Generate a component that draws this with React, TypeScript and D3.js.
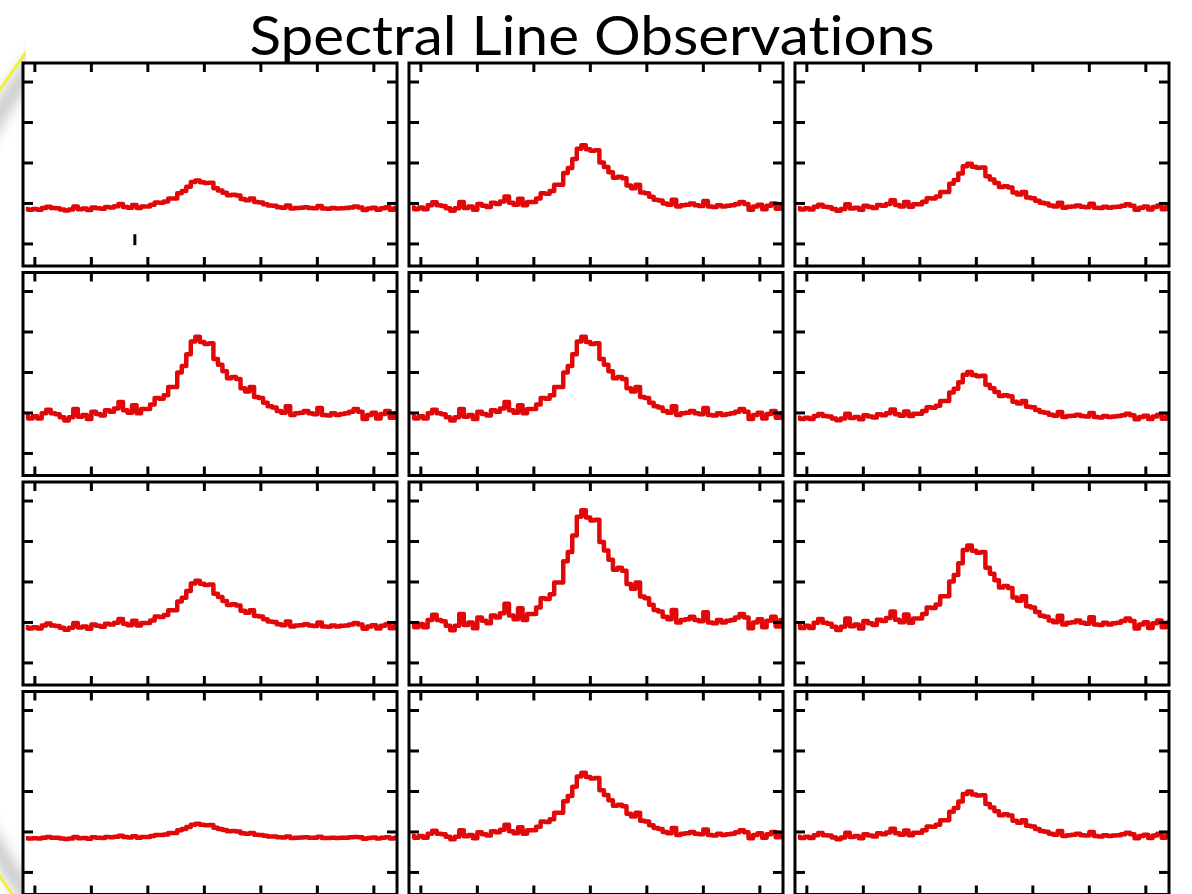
import { useEffect, useRef } from 'react';
import * as d3 from 'd3';

const TITLE = 'Spectral Line Observations';

// channel velocities shared by every panel
const CHANNELS = [
  -316, -308, -300, -292, -284, -276, -268, -260, -252, -244,
  -236, -228, -220, -212, -204, -196, -188, -180, -172, -164,
  -156, -148, -140, -132, -124, -116, -108, -100, -92, -84,
  -76, -68, -60, -52, -44, -36, -28, -20, -12, -4,
  4, 12, 20, 28, 36, 44, 52, 60, 68, 76,
  84, 92, 100, 108, 116, 124, 132, 140, 148, 156,
  164, 172, 180, 188, 196, 204, 212, 220, 228, 236,
  244, 252, 260, 268, 276, 284, 292, 300, 308, 316,
  324, 332, 340,
];

// line profile (row 3, middle);
// every other panel shows the same profile at a different strength
const PROFILE = [
  -0.04, -0.12, -0.04, -0.12, 0.06, 0.19, 0.06, 0.03, -0.08, -0.19,
  -0.08, 0.21, -0.06, 0.0, -0.14, 0.12, 0.04, -0.02, 0.17, 0.12,
  0.23, 0.46, 0.17, 0.08, 0.35, 0.06, 0.21, 0.21, 0.37, 0.6,
  0.58, 0.7, 0.99, 0.99, 1.51, 1.74, 2.15, 2.61, 2.77, 2.59,
  2.52, 2.54, 1.99, 1.78, 1.55, 1.3, 1.35, 1.28, 0.95, 0.83,
  0.99, 0.64, 0.6, 0.44, 0.31, 0.27, 0.14, 0.08, 0.31, 0.0,
  0.06, 0.08, 0.14, 0.06, 0.03, 0.25, 0.0, -0.02, 0.06, 0.0,
  0.04, 0.06, 0.12, 0.21, 0.12, -0.14, 0.0, 0.08, -0.12, 0.04,
  0.14, -0.1, 0.06,
];

// peak height of each panel, row by row
const PEAKS = [
  [0.57, 1.44, 0.98],
  [1.88, 1.88, 1.01],
  [1.03, 2.77, 1.9],
  [0.2, 1.46, 1.0],
];
const FLOOR = -0.17;

const X_TICKS = [-300, -200, -100, 0, 100, 200, 300];
const Y_TICKS = [-1, 0, 1, 2, 3];

// small stray marker in the first panel
const MARKER = { velocity: -123, from: -0.76, to: -1.03 };

const WIDTH = 1192;
const HEIGHT = 894;

export default function App() {
  const svgRef = useRef<SVGSVGElement | null>(null);

  useEffect(() => {
    if (!svgRef.current) return;
    const svg = d3.select(svgRef.current);
    svg.selectAll('*').remove();

    const defs = svg.append('defs');
    defs.append('filter')
      .attr('id', 'soft')
      .attr('x', '-50%').attr('y', '-50%').attr('width', '200%').attr('height', '200%')
      .append('feGaussianBlur')
      .attr('stdDeviation', 7);
    defs.append('clipPath')
      .attr('id', 'left-edge')
      .append('rect')
      .attr('x', -20).attr('y', 0).attr('width', 46).attr('height', HEIGHT);

    // slide frame peeking out at the left
    const frame = svg.append('g').attr('clip-path', 'url(#left-edge)');
    frame.append('circle')
      .attr('cx', 596).attr('cy', 483).attr('r', 702)
      .attr('fill', 'none')
      .attr('stroke', '#000')
      .attr('stroke-opacity', 0.22)
      .attr('stroke-width', 16)
      .attr('filter', 'url(#soft)');
    frame.append('circle')
      .attr('cx', 596).attr('cy', 483).attr('r', 714)
      .attr('fill', 'none')
      .attr('stroke', '#f4ef3a')
      .attr('stroke-width', 3);

    const cols = d3.scaleBand<number>().domain([0, 1, 2]).range([23, 1169]).paddingInner(0.031);
    const rows = d3.scaleBand<number>().domain([0, 1, 2, 3]).range([63, 894.5]).paddingInner(0.031);
    const w = cols.bandwidth();
    const h = rows.bandwidth();

    const x = d3.scaleLinear().domain([-321, 341]).range([0, w]);
    const y = d3.scaleLinear().domain([-1.545, 3.47]).range([h, 0]);

    const profileMax = d3.max(PROFILE) as number;
    const line = d3.line<[number, number]>()
      .x(d => x(d[0]))
      .y(d => y(d[1]))
      .curve(d3.curveStep);

    PEAKS.forEach((row, r) => {
      row.forEach((peak, c) => {
        const k = (peak - FLOOR) / (profileMax - FLOOR);
        const series: [number, number][] = CHANNELS.map((v, i) => [v, FLOOR + (PROFILE[i] - FLOOR) * k]);
        const id = `panel-${r}-${c}`;

        const g = svg.append('g')
          .attr('transform', `translate(${cols(c)},${rows(r)})`);

        g.append('rect')
          .attr('width', w).attr('height', h)
          .attr('fill', '#fff');

        g.append('clipPath').attr('id', id)
          .append('rect').attr('width', w).attr('height', h);

        g.append('path')
          .datum(series)
          .attr('clip-path', `url(#${id})`)
          .attr('fill', 'none')
          .attr('stroke', '#e00808')
          .attr('stroke-width', 4.5)
          .attr('stroke-linejoin', 'round')
          .attr('d', line);

        const tick = (x1: number, y1: number, x2: number, y2: number) =>
          g.append('line')
            .attr('x1', x1).attr('y1', y1).attr('x2', x2).attr('y2', y2)
            .attr('stroke', '#000').attr('stroke-width', 3);

        X_TICKS.forEach(t => {
          tick(x(t), 0, x(t), 9);
          tick(x(t), h - 9, x(t), h);
        });
        Y_TICKS.forEach(t => {
          tick(0, y(t), 10, y(t));
          tick(w - 10, y(t), w, y(t));
        });

        if (r === 0 && c === 0) {
          tick(x(MARKER.velocity), y(MARKER.from), x(MARKER.velocity), y(MARKER.to));
        }

        g.append('rect')
          .attr('width', w).attr('height', h)
          .attr('fill', 'none')
          .attr('stroke', '#000')
          .attr('stroke-width', 3);
      });
    });

    svg.append('text')
      .attr('x', 592)
      .attr('y', 55)
      .attr('text-anchor', 'middle')
      .attr('font-family', 'Lato, "Noto Sans", sans-serif')
      .attr('font-size', 55)
      .attr('textLength', 685)
      .attr('lengthAdjust', 'spacingAndGlyphs')
      .style('font-variant-ligatures', 'none')
      .attr('fill', '#000')
      .text(TITLE);
  }, []);

  return (
    <svg
      ref={svgRef}
      width={WIDTH}
      height={HEIGHT}
      style={{ position: 'absolute', left: 0, top: 0, display: 'block', background: '#fff' }}
    />
  );
}
